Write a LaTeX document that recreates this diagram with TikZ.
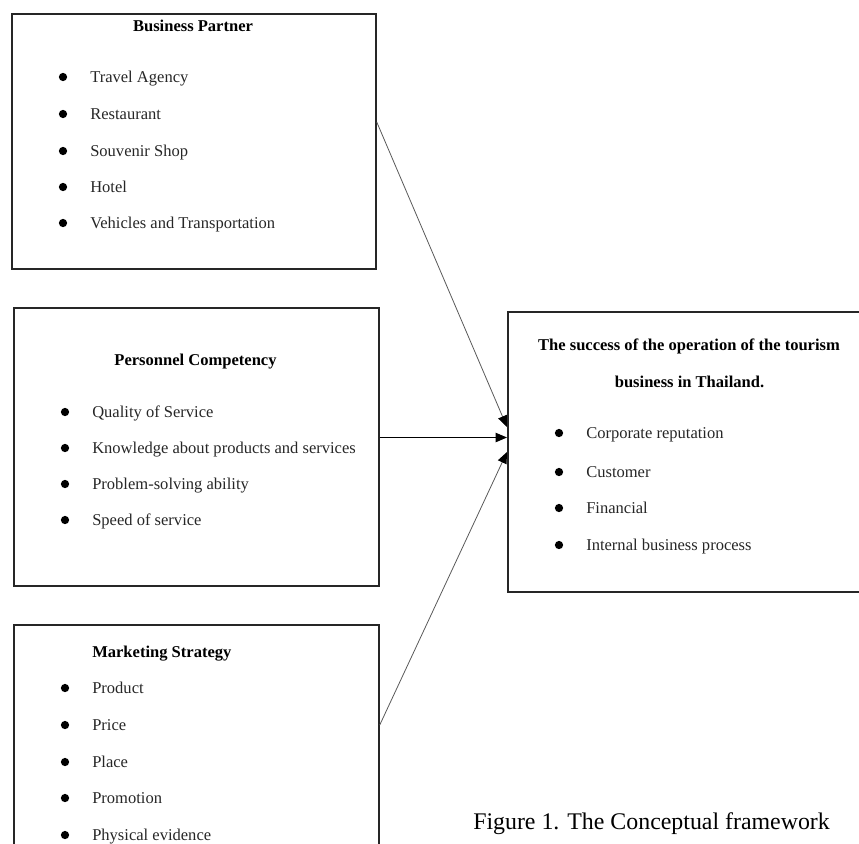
\documentclass[tikz,border=0pt]{standalone}
\usepackage{fontspec}
\setmainfont{Liberation Serif}
\usetikzlibrary{arrows.meta,calc}
\begin{document}
\begin{tikzpicture}[x=0.75pt,y=-0.75pt,
  box/.style={draw=black!85,line width=1.3pt,rectangle,inner sep=0pt,anchor=north west},
  item/.style={anchor=base west,inner sep=0pt,font=\fontsize{12.4}{14}\selectfont,text=black!85},
  head/.style={anchor=base,inner sep=0pt,font=\fontsize{12.4}{14}\selectfont\bfseries},
  dot/.style={circle,fill=black,inner sep=0pt,minimum size=6.2pt},
  link/.style={-{Triangle[length=8.5pt,width=7pt,color=black]},line width=0.6pt,draw=black!65},
  mainlink/.style={-{Triangle[length=8.5pt,width=7pt]},line width=0.8pt,draw=black}
]
\useasboundingbox (0,0) rectangle (859,843);

% boxes
\node[box,minimum width=273pt,minimum height=191.25pt] (bp) at (11,13) {};
\node[box,minimum width=273.75pt,minimum height=208.5pt] (pc) at (13,307) {};
\node[box,minimum width=273.75pt,minimum height=168pt] (ms) at (13,624) {};
\node[box,minimum width=267.75pt,minimum height=210pt] (rb) at (507,311) {};

% headings
\node[head] (bph) at (193,31.5) {Business Partner};
\node[head] (pch) at (195.5,365.5) {Personnel Competency};
\node[head] (rbh1) at (689,350.5) {The success of the operation of the tourism};
\node[head] (rbh2) at (689.5,387.5) {business in Thailand.};
\node[head,anchor=base west] (msh) at (92,657.5) {Marketing Strategy};

% Business Partner items
\foreach \t/\y [count=\i] in {Travel Agency/77,Restaurant/114,Souvenir Shop/151,Hotel/187,Vehicles and Transportation/223}{
  \node[dot] (bpd\i) at (63,\y) {};
  \node[item] (bpi\i) at (90,\y+5.5) {\t};
}
% Personnel Competency items
\foreach \t/\y [count=\i] in {Quality of Service/412,Knowledge about products and services/448,Problem-solving ability/484,Speed of service/520}{
  \node[dot] (pcd\i) at (65,\y) {};
  \node[item] (pci\i) at (92,\y+5.5) {\t};
}
% Success items
\foreach \t/\y [count=\i] in {Corporate reputation/433,Customer/472,Financial/508,Internal business process/545}{
  \node[dot] (rbd\i) at (559,\y) {};
  \node[item] (rbi\i) at (586,\y+5.5) {\t};
}
% Marketing Strategy items
\foreach \t/\y [count=\i] in {Product/688,Price/725,Place/762,Promotion/798,Physical evidence/835}{
  \node[dot] (msd\i) at (65,\y) {};
  \node[item] (msi\i) at (92,\y+5.5) {\t};
}

% caption
\node[anchor=base west,inner sep=0pt,font=\fontsize{17.9}{20}\selectfont] (cap) at (473,829) {Figure 1. The Conceptual framework};

% connectors
\draw[link] ($(bp.north east)+(0,109)$) -- ($(rb.north west)+(0,116)$);
\draw[mainlink] ($(pc.north east)+(0,130.5)$) -- ($(rb.north west)+(0,126.5)$);
\draw[link] ($(ms.north east)+(0,101)$) -- ($(rb.north west)+(0,141)$);
\end{tikzpicture}
\end{document}
